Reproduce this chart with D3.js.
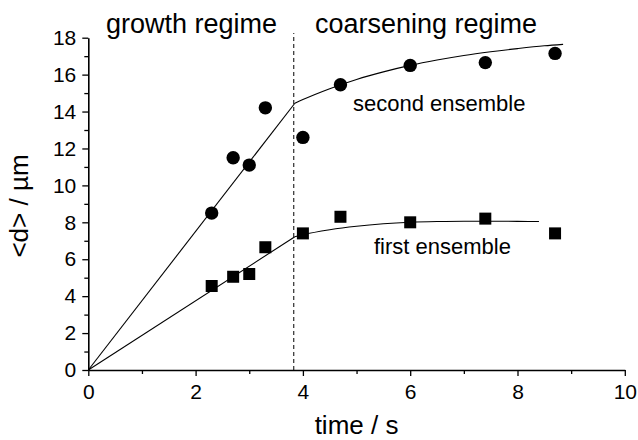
<!DOCTYPE html>
<html>
<head>
<meta charset="utf-8">
<script src="https://cdn.jsdelivr.net/npm/d3@7"></script>
<style>
    html, body { margin: 0; padding: 0; background: #fff; }
    svg text { font-family: "Liberation Sans", Arial, sans-serif; fill: #000; }
</style>
</head>
<body>
<div id="chart"></div>
<script>
// measured data, time in s and mean diameter in um
var times = [2.3, 2.7, 3.0, 3.3, 4.0, 4.7, 6.0, 7.4, 8.7];
var firstEnsemble = [4.55, 5.05, 5.2, 6.65, 7.4, 8.3, 8.0, 8.2, 7.4];
var secondEnsemble = [8.5, 11.5, 11.1, 14.2, 12.6, 15.45, 16.5, 16.65, 17.15];

// fitted lines
var firstGrowthFit = [[0, 0], [3.85, 7.22]];
var firstCoarseningFit = [[3.85, 7.22], [4.0, 7.33], [4.5, 7.6], [5.0, 7.79], [5.5, 7.92], [6.0, 8.0],
    [6.5, 8.04], [7.0, 8.06], [7.5, 8.06], [8.0, 8.05], [8.4, 8.04]];
var secondGrowthFit = [[0, 0], [3.85, 14.45]];
var secondCoarseningFit = [[3.85, 14.45], [4.0, 14.65], [4.5, 15.24], [5.0, 15.74], [5.5, 16.15], [6.0, 16.5],
    [6.5, 16.79], [7.0, 17.04], [7.5, 17.24], [8.0, 17.41], [8.5, 17.56], [8.85, 17.64]];

// regime boundary
var regimeBoundary = [[3.83, 0], [3.83, 18.25]];

var xTicks = [0, 2, 4, 6, 8, 10];
var xMinorTicks = [1, 3, 5, 7, 9];
var yTicks = [0, 2, 4, 6, 8, 10, 12, 14, 16, 18];
var yMinorTicks = [1, 3, 5, 7, 9, 11, 13, 15, 17];

var width = 638, height = 440;
var margin = {left: 88.3, right: 13.2, top: 37.7, bottom: 70};

var x = d3.scaleLinear().domain([0, 10]).range([margin.left, width - margin.right]);
var y = d3.scaleLinear().domain([0, 18]).range([height - margin.bottom, margin.top]);

var svg = d3.select("#chart")
    .append("svg")
    .attr("xmlns", "http://www.w3.org/2000/svg")
    .attr("width", width)
    .attr("height", height);

//minor ticks first so the axis line sits on top
svg.append("g")
    .attr("transform", "translate(0," + y(0) + ")")
    .call(d3.axisBottom(x).tickValues(xMinorTicks).tickSize(4).tickFormat(""))
    .call(function (g) { g.select(".domain").remove(); })
    .selectAll("line").attr("stroke-width", 1.3);

svg.append("g")
    .attr("transform", "translate(" + x(0) + ",0)")
    .call(d3.axisLeft(y).tickValues(yMinorTicks).tickSize(4).tickFormat(""))
    .call(function (g) { g.select(".domain").remove(); })
    .selectAll("line").attr("stroke-width", 1.3);

var xAxis = svg.append("g")
    .attr("transform", "translate(0," + y(0) + ")")
    .call(d3.axisBottom(x).tickValues(xTicks).tickSize(6).tickSizeOuter(0).tickPadding(8));

var yAxis = svg.append("g")
    .attr("transform", "translate(" + x(0) + ",0)")
    .call(d3.axisLeft(y).tickValues(yTicks).tickSize(6).tickSizeOuter(0).tickPadding(6));

[xAxis, yAxis].forEach(function (g) {
    g.select(".domain").attr("stroke-width", 1.6);
    g.selectAll(".tick line").attr("stroke-width", 1.3);
    g.selectAll("text")
        .attr("font-size", "21px")
        .attr("font-family", "Liberation Sans, Arial, sans-serif");
});

// dashed line between the two regimes
var line = d3.line()
    .x(function (d) { return x(d[0]); })
    .y(function (d) { return y(d[1]); });

svg.append("path")
    .datum(regimeBoundary)
    .attr("d", line)
    .attr("fill", "none")
    .attr("stroke", "#000")
    .attr("stroke-width", 1)
    .attr("stroke-dasharray", "4,3");

var curve = d3.line()
    .curve(d3.curveMonotoneX)
    .x(function (d) { return x(d[0]); })
    .y(function (d) { return y(d[1]); });

[firstGrowthFit, secondGrowthFit].forEach(function (fit) {
    svg.append("path")
        .datum(fit)
        .attr("d", line)
        .attr("fill", "none")
        .attr("stroke", "#000")
        .attr("stroke-width", 1.1);
});

[firstCoarseningFit, secondCoarseningFit].forEach(function (fit) {
    svg.append("path")
        .datum(fit)
        .attr("d", curve)
        .attr("fill", "none")
        .attr("stroke", "#000")
        .attr("stroke-width", 1.1);
});

// first ensemble: squares
var squareSize = 12;
svg.append("g")
    .selectAll("rect")
    .data(times)
    .enter()
    .append("rect")
    .attr("x", function (d) { return x(d) - squareSize / 2; })
    .attr("y", function (d, i) { return y(firstEnsemble[i]) - squareSize / 2; })
    .attr("width", squareSize)
    .attr("height", squareSize)
    .attr("fill", "#000");

// second ensemble: circles
svg.append("g")
    .selectAll("circle")
    .data(times)
    .enter()
    .append("circle")
    .attr("cx", function (d) { return x(d); })
    .attr("cy", function (d, i) { return y(secondEnsemble[i]); })
    .attr("r", 6.7)
    .attr("fill", "#000");

// labels
svg.append("text")
    .attr("x", 106)
    .attr("y", 33)
    .attr("font-size", "27px")
    .text("growth regime");

svg.append("text")
    .attr("x", 315)
    .attr("y", 33)
    .attr("font-size", "27px")
    .text("coarsening regime");

svg.append("text")
    .attr("x", 353)
    .attr("y", 111)
    .attr("font-size", "22px")
    .text("second ensemble");

svg.append("text")
    .attr("x", 374)
    .attr("y", 254)
    .attr("font-size", "22px")
    .text("first ensemble");

svg.append("text")
    .attr("x", (x(0) + x(10)) / 2)
    .attr("y", 434)
    .attr("text-anchor", "middle")
    .attr("font-size", "26px")
    .text("time / s");

svg.append("text")
    .attr("transform", "translate(28,206) rotate(-90)")
    .attr("text-anchor", "middle")
    .attr("font-size", "26px")
    .text("<d> / \u00b5m");
</script>
</body>
</html>
